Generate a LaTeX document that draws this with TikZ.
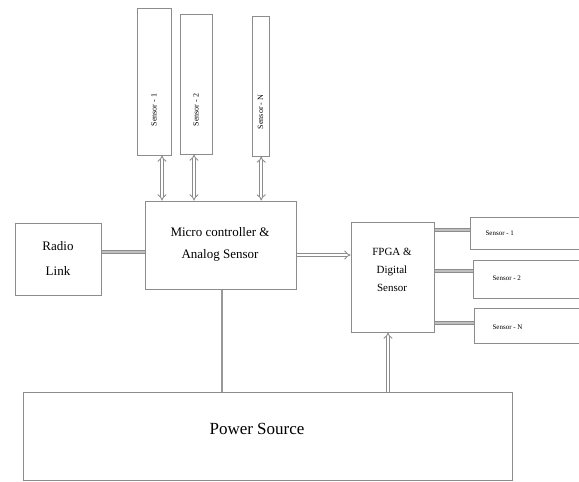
\documentclass[tikz,border=0pt]{standalone}
\usepackage{fontspec}
\setmainfont{Liberation Serif}
\usetikzlibrary{arrows.meta}
\begin{document}
\begin{tikzpicture}[x=1pt,y=-1pt,
  box/.style={draw=black!45, line width=1pt, fill=white, inner sep=0pt},
  dbl/.style={draw=black!45, line width=0.9pt, double=white, double distance=2.2pt},
  barline/.style={draw=black!45, line width=0.8pt, double=black!25, double distance=2.6pt},
  tiny/.style={font=\fontsize{7}{8}\selectfont},
  vlab/.style={font=\fontsize{8}{9}\selectfont, rotate=90}
]
\useasboundingbox (0,0) rectangle (579,482);
% top sensors
\node[box, minimum width=34pt, minimum height=147pt] (s1top) at (154,81.5) {};
\node[box, minimum width=32pt, minimum height=140pt] (s2top) at (196,84) {};
\node[box, minimum width=17pt, minimum height=140pt] (s3top) at (260.5,86) {};
\node[vlab] (t1) at (154,110) {Sensor - 1};
\node[vlab] (t2) at (196,110) {Sensor - 2};
\node[vlab] (t3) at (260.5,112) {Sensor - N};
% main blocks
\node[box, minimum width=151pt, minimum height=88pt] (mcu) at (220.5,245) {};
\node[font=\fontsize{13}{22}\selectfont, align=center] (mcut) at (220,244) {Micro controller \&\\Analog Sensor};
\node[box, minimum width=86pt, minimum height=72pt] (radio) at (58,259) {};
\node[font=\fontsize{13}{25}\selectfont, align=center] (radiot) at (58,258) {Radio\\Link};
\node[box, minimum width=83pt, minimum height=110pt] (fpga) at (392.5,277) {};
\node[font=\fontsize{11}{18}\selectfont, align=center] (fpgat) at (392,270) {FPGA \&\\Digital\\Sensor};
% right sensors
\node[box, minimum width=120pt, minimum height=32pt] (r1) at (530,233) {};
\node[box, minimum width=117pt, minimum height=38pt] (r2) at (531.5,279) {};
\node[box, minimum width=116pt, minimum height=35pt] (r3) at (532,325.5) {};
\node[tiny, anchor=west] (r1t) at (482,233) {Sensor - 1};
\node[tiny, anchor=west] (r2t) at (489,278) {Sensor - 2};
\node[tiny, anchor=west] (r3t) at (489,327) {Sensor - N};
% power
\node[box, minimum width=489pt, minimum height=88pt] (power) at (267.5,436) {};
\node[font=\fontsize{17}{20}\selectfont] (powert) at (257,429) {Power Source};
% connectors
\draw[dbl, {Implies}-{Implies}] ([xshift=8pt]s1top.south) -- ([xshift=8pt]s1top.south |- mcu.north);
\draw[dbl, {Implies}-{Implies}] ([xshift=-2pt]s2top.south) -- ([xshift=-2pt]s2top.south |- mcu.north);
\draw[dbl, {Implies}-{Implies}] ([xshift=0.7pt]s3top.south) -- ([xshift=0.7pt]s3top.south |- mcu.north);
\draw[barline] ([yshift=7pt]radio.east) -- ([yshift=7pt]radio.east -| mcu.west);
\draw[dbl, -{Implies}] ([yshift=-10pt]mcu.east) -- ([yshift=-10pt]mcu.east -| fpga.west);
\draw[barline] ([yshift=3pt]r1.west -| fpga.east) -- ([yshift=3pt]r1.west);
\draw[barline] ([yshift=8pt]r2.west -| fpga.east) -- ([yshift=8pt]r2.west);
\draw[barline] ([yshift=2.5pt]r3.west -| fpga.east) -- ([yshift=2.5pt]r3.west);
\draw[draw=black!40, line width=2pt] ([xshift=1.5pt]mcu.south) -- ([xshift=1.5pt]mcu.south |- power.north);
\draw[dbl, -{Implies}] ([xshift=-4.5pt]fpga.south |- power.north) -- ([xshift=-4.5pt]fpga.south);
\end{tikzpicture}
\end{document}
